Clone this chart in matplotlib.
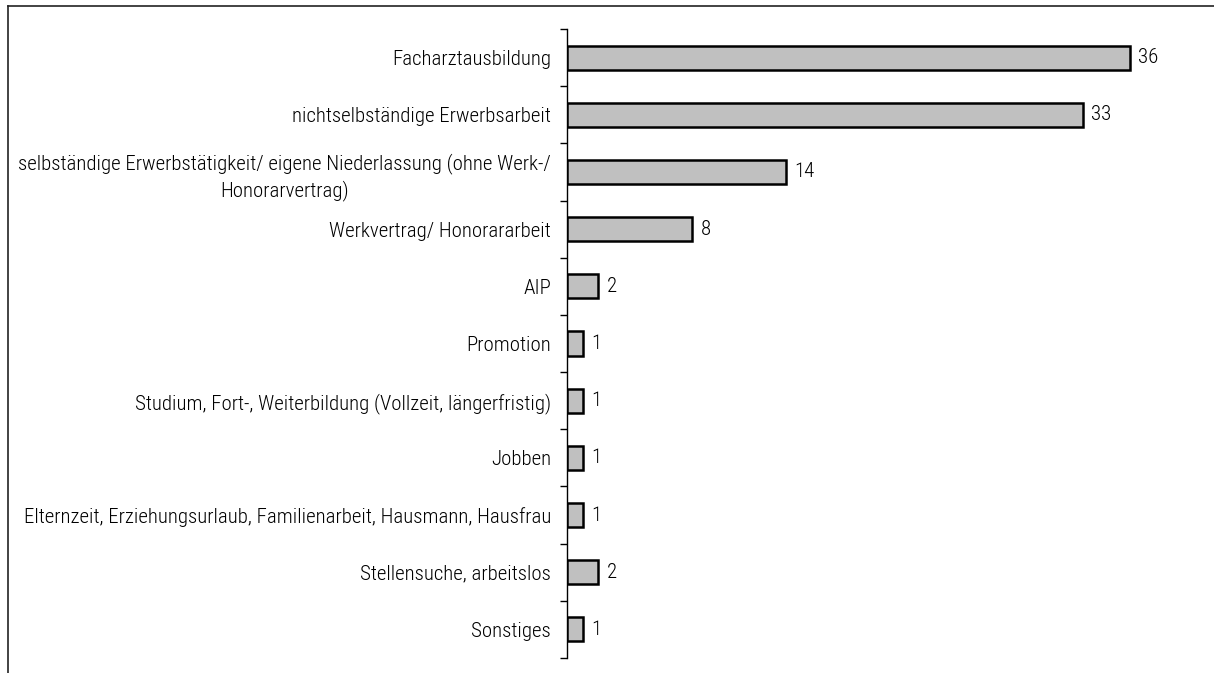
import matplotlib
matplotlib.use("Agg")
import matplotlib.pyplot as plt
from matplotlib import font_manager
from matplotlib.lines import Line2D

categories = [
    "Facharztausbildung",
    "nichtselbständige Erwerbsarbeit",
    "selbständige Erwerbstätigkeit/ eigene Niederlassung (ohne Werk-/\nHonorarvertrag)",
    "Werkvertrag/ Honorararbeit",
    "AIP",
    "Promotion",
    "Studium, Fort-, Weiterbildung (Vollzeit, längerfristig)",
    "Jobben",
    "Elternzeit, Erziehungsurlaub, Familienarbeit, Hausmann, Hausfrau",
    "Stellensuche, arbeitslos",
    "Sonstiges",
]
values = [36, 33, 14, 8, 2, 1, 1, 1, 1, 2, 1]

names = {f.name for f in font_manager.fontManager.ttflist}
fams = [f for f in ["Liberation Sans Narrow", "Arial Narrow", "Roboto Condensed", "Archivo Narrow"] if f in names]
plt.rcParams["font.family"] = fams[:1] + ["DejaVu Sans"]
plt.rcParams["font.weight"] = 300

FS = 15
W, H = 1214, 673
fig = plt.figure(figsize=(W / 100, H / 100), dpi=100)
ax_left, ax_right, ax_top, ax_bot = 567, 1200, 29, 658
ax = fig.add_axes([ax_left / W, 1 - ax_bot / H, (ax_right - ax_left) / W, (ax_bot - ax_top) / H])

n = len(categories)
ypos = list(range(n))
ax.barh(ypos, values, height=0.42, color="#C0C0C0", edgecolor="black", linewidth=1.8, zorder=3)
ax.set_ylim(n - 0.5, -0.5)
ax.set_xlim(0, (ax_right - ax_left) / 15.64)

for y, v in zip(ypos, values):
    ax.annotate(str(v), (v, y), xytext=(6, 0), textcoords="offset points",
                ha="left", va="center", fontsize=FS)

ax.set_yticks([i - 0.5 for i in range(n + 1)])
ax.set_yticklabels([])
ax.set_yticks(ypos, minor=True)
ax.set_yticklabels(categories, minor=True, fontsize=FS, multialignment="center", linespacing=1.35)
ax.tick_params(axis="y", which="major", length=5, width=1, direction="out", color="black")
ax.tick_params(axis="y", which="minor", length=0, pad=11.5)
ax.set_xticks([])
for s in ["top", "right", "bottom"]:
    ax.spines[s].set_visible(False)
ax.spines["left"].set_linewidth(1)

# figure frame (top and left visible)
fig.add_artist(Line2D([8 / W, 8 / W], [0, 1 - 6 / H], transform=fig.transFigure, color="#222222", lw=1.2))
fig.add_artist(Line2D([8 / W, 1], [1 - 6 / H, 1 - 6 / H], transform=fig.transFigure, color="#222222", lw=1.2))

fig.savefig("out.png", dpi=100)
